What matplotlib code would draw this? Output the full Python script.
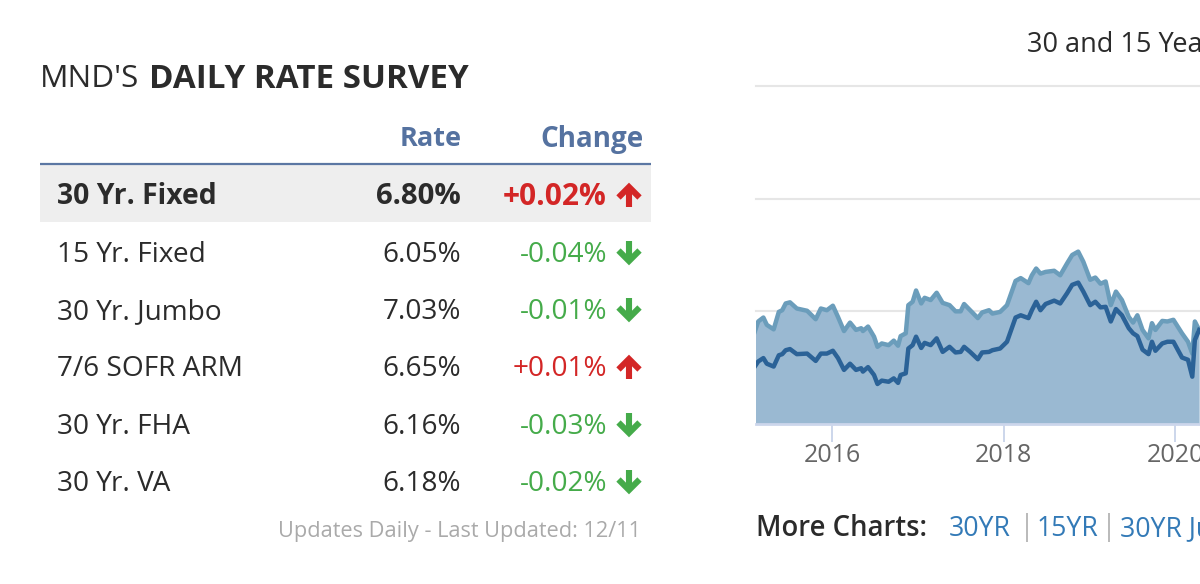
import matplotlib
matplotlib.use("Agg")
import matplotlib.pyplot as plt

plt.rcParams["font.family"] = "Open Sans"

# survey table
products = ["30 Yr. Fixed", "15 Yr. Fixed", "30 Yr. Jumbo", "7/6 SOFR ARM", "30 Yr. FHA", "30 Yr. VA"]
rates = ["6.80%", "6.05%", "7.03%", "6.65%", "6.16%", "6.18%"]
changes = ["+0.02%", "-0.04%", "-0.01%", "+0.01%", "-0.03%", "-0.02%"]

# chart series
years = [2015.10, 2015.14, 2015.20, 2015.24, 2015.32, 2015.38, 2015.42, 2015.46, 2015.51, 2015.59,
         2015.71, 2015.81, 2015.87, 2015.94, 2016.01, 2016.07, 2016.14, 2016.21, 2016.28, 2016.34,
         2016.36, 2016.42, 2016.49, 2016.53, 2016.58, 2016.66, 2016.72, 2016.77, 2016.80, 2016.86,
         2016.89, 2016.94, 2016.98, 2017.04, 2017.08, 2017.15, 2017.22, 2017.29, 2017.37, 2017.44,
         2017.50, 2017.54, 2017.61, 2017.70, 2017.75, 2017.83, 2017.87, 2017.96, 2018.04, 2018.14,
         2018.20, 2018.29, 2018.33, 2018.38, 2018.43, 2018.49, 2018.59, 2018.66, 2018.74, 2018.80,
         2018.87, 2018.93, 2019.01, 2019.07, 2019.13, 2019.19, 2019.25, 2019.31, 2019.38, 2019.46,
         2019.51, 2019.56, 2019.62, 2019.69, 2019.73, 2019.77, 2019.85, 2019.91, 2019.98, 2020.08,
         2020.15, 2020.20, 2020.23, 2020.28]
rate_30yr = [3.64, 3.82, 3.89, 3.76, 3.68, 3.99, 4.02, 4.14, 4.16, 4.05,
             4.01, 3.86, 4.05, 4.02, 4.10, 3.90, 3.65, 3.80, 3.67, 3.70,
             3.65, 3.73, 3.55, 3.37, 3.43, 3.40, 3.48, 3.39, 3.56, 3.61,
             4.11, 4.17, 4.37, 4.14, 4.24, 4.20, 4.33, 4.15, 4.11, 4.00,
             4.00, 4.13, 4.02, 3.88, 3.98, 4.02, 3.96, 3.99, 4.11, 4.54,
             4.59, 4.50, 4.64, 4.76, 4.67, 4.70, 4.72, 4.64, 4.85, 5.00,
             5.06, 4.88, 4.56, 4.60, 4.49, 4.53, 4.11, 4.35, 4.20, 3.90,
             3.80, 3.93, 3.67, 3.52, 3.79, 3.67, 3.83, 3.82, 3.85, 3.61,
             3.46, 3.25, 3.82, 3.67]
rate_15yr = [3.02, 3.11, 3.17, 3.07, 3.02, 3.22, 3.24, 3.31, 3.33, 3.24,
             3.25, 3.12, 3.25, 3.25, 3.30, 3.17, 2.96, 3.07, 2.96, 2.99,
             2.93, 3.01, 2.87, 2.71, 2.77, 2.75, 2.81, 2.73, 2.87, 2.90,
             3.34, 3.40, 3.55, 3.35, 3.44, 3.40, 3.52, 3.28, 3.37, 3.27,
             3.28, 3.37, 3.28, 3.15, 3.27, 3.28, 3.31, 3.34, 3.46, 3.89,
             3.93, 3.88, 4.02, 4.17, 4.02, 4.13, 4.19, 4.14, 4.32, 4.47,
             4.51, 4.35, 4.11, 4.17, 4.07, 4.08, 3.82, 4.04, 3.93, 3.70,
             3.61, 3.56, 3.32, 3.24, 3.46, 3.30, 3.43, 3.46, 3.46, 3.18,
             3.14, 2.84, 3.49, 3.67]
year_ticks = [2016, 2018, 2020]
grid_levels = [4, 6, 8]

W, H = 1200, 584
fig = plt.figure(figsize=(W / 100, H / 100), dpi=100, facecolor="white")

# page layer in pixel coordinates
page = fig.add_axes([0, 0, 1, 1])
page.set_xlim(0, W)
page.set_ylim(H, 0)
page.axis("off")

INK = "#2b2b2b"
HEAD = "#5572a0"
RED = "#d32626"
GREEN = "#45ab4a"

page.text(40, 79, "MND'S", fontsize=22.6, color=INK, va="center")
page.text(149, 79, "DAILY RATE SURVEY", fontsize=23.9, fontweight="bold", color=INK, va="center")
page.text(462, 139, "Rate", fontsize=19.5, fontweight="bold", color=HEAD, ha="right", va="center")
page.text(644, 139, "Change", fontsize=20, fontweight="bold", color=HEAD, ha="right", va="center")
page.plot([40, 651], [164, 164], color="#5b77a3", lw=1.6, solid_capstyle="butt")
page.fill_between([40, 651], 165, 222, color="#eeeeee", lw=0, zorder=0)


def arrow(x, y, up, color):
    s = -1 if up else 1
    page.plot([x, x], [y - s * 12, y + s * 8], color=color, lw=4.4, solid_capstyle="butt")
    page.plot([x - 10.5, x, x + 10.5], [y - s * 2.5, y + s * 8, y - s * 2.5], color=color, lw=4.4,
              solid_capstyle="butt", solid_joinstyle="miter")


row_y = [197, 255, 312, 369, 427, 484]
arrow_y = [195, 253, 310, 367, 425, 482]
for i, (name, rate, change) in enumerate(zip(products, rates, changes)):
    y = row_y[i]
    up = change.startswith("+")
    color = RED if up else GREEN
    if i == 0:
        page.text(57, y, name, fontsize=20.4, fontweight="bold", color=INK, va="center")
        page.text(461, y, rate, fontsize=21.2, fontweight="bold", color=INK, ha="right", va="center")
        page.text(607, y, change, fontsize=21.5, fontweight="bold", color=color, ha="right", va="center")
    else:
        page.text(57, y, name, fontsize=20.2, color=INK, va="center")
        page.text(461, y, rate, fontsize=20.2, color=INK, ha="right", va="center")
        page.text(607, y, change, fontsize=20.2, color=color, ha="right", va="center")
    arrow(629, arrow_y[i], up, color)

page.text(641, 532, "Updates Daily - Last Updated: 12/11", fontsize=15.7, color="#aaaaaa", ha="right", va="center")

page.text(1027, 45, "30 and 15 Year Fixed", fontsize=19.5, color=INK, va="center")
page.text(756, 529, "More Charts:", fontsize=19.8, fontweight="semibold", color=INK, va="center")
LINK = "#337ab7"
page.text(949, 529, "30YR", fontsize=19.2, color=LINK, va="center")
page.text(1037, 529, "15YR", fontsize=19.2, color=LINK, va="center")
page.text(1120, 529, "30YR Jumbo", fontsize=19.2, color=LINK, va="center")
page.text(1026.5, 528, "|", fontsize=21, color="#bbbbbb", ha="center", va="center")
page.text(1109, 528, "|", fontsize=21, color="#bbbbbb", ha="center", va="center")

# rate chart, axes box set so gridlines land where they do in the picture
ax = fig.add_axes([756 / W, 1 - 424 / H, 444 / W, (424 - 86) / H])
ax.patch.set_alpha(0)
ax.set_xlim(2015.114, 2020.29)
ax.set_ylim(2, 8)
for lvl in grid_levels:
    ax.axhline(lvl, color="#e6e6e6", lw=1.5, zorder=1, clip_on=False)
ax.fill_between(years, 2, rate_30yr, color="#9ab9d2", lw=0, zorder=2)
ax.plot(years, rate_30yr, color="#6b9dbb", lw=3.2, zorder=3)
ax.plot(years, rate_15yr, color="#2b6297", lw=3.2, zorder=4)

for side in ["top", "left", "right"]:
    ax.spines[side].set_visible(False)
ax.spines["bottom"].set_color("#ccd6eb")
ax.spines["bottom"].set_linewidth(2)
ax.spines["bottom"].set_zorder(5)
ax.set_yticks([])
ax.set_xticks(year_ticks)
ax.tick_params(axis="x", length=13, width=1.4, color="#ccd6eb", labelcolor="#666666", labelsize=18, pad=1)

fig.savefig("out.png", dpi=100, facecolor="white")
